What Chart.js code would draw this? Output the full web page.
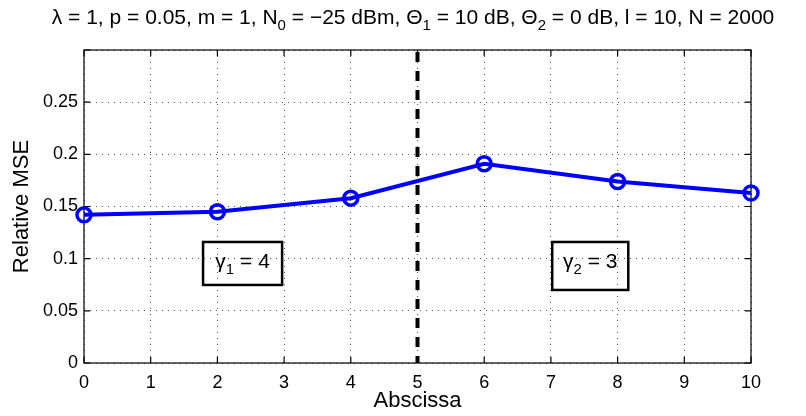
<!DOCTYPE html>
<html lang="en">
<head>
    <meta charset="UTF-8">
    <title>Relative MSE</title>
    <script src="https://cdn.jsdelivr.net/npm/chart.js"></script>
    <style>
        body {
            margin: 0;
            background: #ffffff;
        }
        #grafico {
            display: block;
        }
    </style>
</head>
<body>

<canvas id="grafico" width="806" height="416"></canvas>

<script>
// Dati
const xValues = [0, 2, 4, 6, 8, 10];
const mseValues = [0.142, 0.145, 0.158, 0.191, 0.174, 0.163];
const xTickValues = [0, 1, 2, 3, 4, 5, 6, 7, 8, 9, 10];
const yTickValues = [0, 0.05, 0.1, 0.15, 0.2, 0.25, 0.3];
const splitX = 5;

// Testi con pedici: [testo, pedice?]
const titleParts = [
    ['\u03bb = 1, p = 0.05, m = 1, N'], ['0', true], [' = \u221225 dBm, \u0398'], ['1', true],
    [' = 10 dB, \u0398'], ['2', true], [' = 0 dB, l = 10, N = 2000']
];
// riquadri: estremi in coordinate dei dati
const boxes = [
    { x0: 1.785, x1: 2.97, y0: 0.116, y1: 0.0748, parts: [['\u03b3'], ['1', true], [' = 4']] },
    { x0: 7.02, x1: 8.16, y0: 0.116, y1: 0.070, parts: [['\u03b3'], ['2', true], [' = 3']] }
];

const FONT = '"Liberation Sans", Arial, sans-serif';

// disegna testo con pedici, centrato su cx
function drawRich(ctx, parts, cx, baseY, size) {
    const subSize = Math.round(size * 0.72);
    let widths = parts.map(p => {
        ctx.font = (p[1] ? subSize : size) + 'px ' + FONT;
        return ctx.measureText(p[0]).width;
    });
    let total = widths.reduce((a, b) => a + b, 0);
    let x = cx - total / 2;
    ctx.textAlign = 'left';
    ctx.textBaseline = 'alphabetic';
    ctx.fillStyle = '#000';
    parts.forEach((p, i) => {
        ctx.font = (p[1] ? subSize : size) + 'px ' + FONT;
        ctx.fillText(p[0], x, p[1] ? baseY + size * 0.3 : baseY);
        x += widths[i];
    });
}

const stilePlugin = {
    id: 'stileMatlab',
    beforeDatasetsDraw(chart) {
        const ctx = chart.ctx;
        const a = chart.chartArea;
        const xs = chart.scales.x, ys = chart.scales.y;
        ctx.save();
        ctx.strokeStyle = '#000';
        ctx.lineWidth = 1.2;
        ctx.strokeRect(a.left, a.top, a.right - a.left, a.bottom - a.top);
        // tacche interne
        ctx.beginPath();
        xTickValues.forEach(v => {
            const px = xs.getPixelForValue(v);
            ctx.moveTo(px, a.bottom); ctx.lineTo(px, a.bottom - 6);
            ctx.moveTo(px, a.top); ctx.lineTo(px, a.top + 6);
        });
        yTickValues.forEach(v => {
            const py = ys.getPixelForValue(v);
            ctx.moveTo(a.left, py); ctx.lineTo(a.left + 6, py);
            ctx.moveTo(a.right, py); ctx.lineTo(a.right - 6, py);
        });
        ctx.stroke();
        ctx.restore();
    },
    afterDatasetsDraw(chart) {
        const ctx = chart.ctx;
        const xs = chart.scales.x, ys = chart.scales.y;
        ctx.save();
        boxes.forEach(b => {
            const l = xs.getPixelForValue(b.x0), r = xs.getPixelForValue(b.x1);
            const t = ys.getPixelForValue(b.y0), bt = ys.getPixelForValue(b.y1);
            ctx.strokeStyle = '#000';
            ctx.lineWidth = 2.5;
            ctx.strokeRect(l, t, r - l, bt - t);
            drawRich(ctx, b.parts, (l + r) / 2, t + 26, 21);
        });
        drawRich(ctx, titleParts, 413, 24, 21);
        ctx.restore();
    }
};

let ctx = document.getElementById('grafico').getContext('2d');
let chart = new Chart(ctx, {
    type: 'line',
    data: {
        datasets: [{
            label: 'Relative MSE',
            data: xValues.map((x, i) => ({ x: x, y: mseValues[i] })),
            borderColor: '#0000ff',
            borderWidth: 4,
            pointRadius: 7,
            pointBorderWidth: 3.5,
            pointBorderColor: '#0000ff',
            pointBackgroundColor: 'rgba(0,0,0,0)',
            tension: 0,
            clip: false,
            order: 1
        }, {
            label: 'split',
            data: [{ x: splitX, y: 0.3 }, { x: splitX, y: 0 }],
            borderColor: '#000',
            borderWidth: 4,
            borderDash: [10, 9],
            borderDashOffset: -2,
            pointRadius: 0,
            order: 2
        }]
    },
    options: {
        responsive: false,
        animation: false,
        layout: { padding: { top: 50, right: 55, left: 0, bottom: 0 } },
        plugins: {
            legend: { display: false },
            tooltip: { enabled: false },
            title: { display: false }
        },
        scales: {
            x: {
                type: 'linear',
                min: 0,
                max: 10,
                afterFit(s) { s.height = 53; },
                afterBuildTicks(s) { s.ticks = xTickValues.map(v => ({ value: v })); },
                grid: { color: '#555', lineWidth: 1, drawTicks: false },
                border: { display: false, dash: [1, 5] },
                ticks: { padding: 9, color: '#000', font: { family: FONT, size: 18 } },
                title: {
                    display: true, text: 'Abscissa', color: '#000',
                    font: { family: FONT, size: 22 }, padding: { top: 0, bottom: 2 }
                }
            },
            y: {
                type: 'linear',
                min: 0,
                max: 0.3,
                afterFit(s) { s.width = 84; },
                afterBuildTicks(s) { s.ticks = yTickValues.map(v => ({ value: v })); },
                grid: { color: '#555', lineWidth: 1, drawTicks: false },
                border: { display: false, dash: [1, 5] },
                ticks: {
                    padding: 6, color: '#000', font: { family: FONT, size: 18 },
                    callback: v => (v >= 0.299 ? '' : String(+v.toFixed(2)))
                },
                title: {
                    display: true, text: 'Relative MSE', color: '#000',
                    font: { family: FONT, size: 22 }, padding: { top: 9, bottom: 0 }
                }
            }
        }
    },
    plugins: [stilePlugin]
});
</script>

</body>
</html>
